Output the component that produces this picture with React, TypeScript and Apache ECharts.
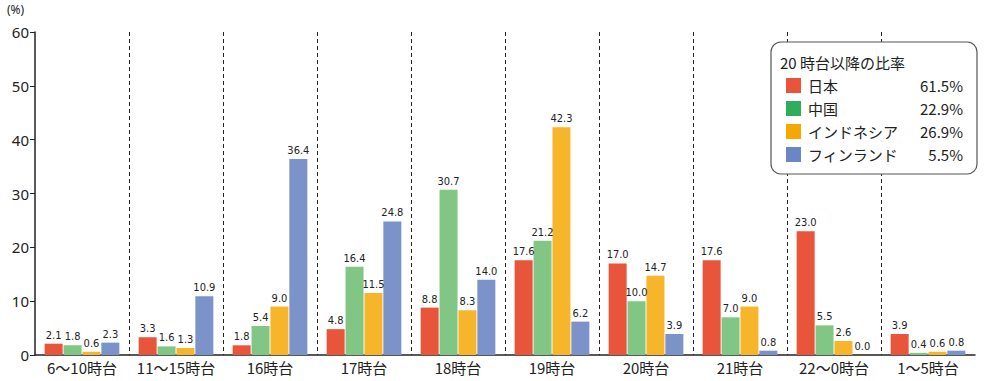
import React, { useEffect, useRef } from "react";
import * as echarts from "echarts";

const categories = ["6〜10時台", "11〜15時台", "16時台", "17時台", "18時台", "19時台", "20時台", "21時台", "22〜0時台", "1〜5時台"];
const japan = [2.1, 3.3, 1.8, 4.8, 8.8, 17.6, 17.0, 17.6, 23.0, 3.9];
const china = [1.8, 1.6, 5.4, 16.4, 30.7, 21.2, 10.0, 7.0, 5.5, 0.4];
const indonesia = [0.6, 1.3, 9.0, 11.5, 8.3, 42.3, 14.7, 9.0, 2.6, 0.6];
const finland = [2.3, 10.9, 36.4, 24.8, 14.0, 6.2, 3.9, 0.8, 0.0, 0.8];
const seriesNames = ["日本", "中国", "インドネシア", "フィンランド"];
const shareAfter20 = ["61.5%", "22.9%", "26.9%", "5.5%"];
const legendTitle = "20 時台以降の比率";

const barColors = ["#E9553A", "#82C685", "#F7B52C", "#7B93C9"];
const legendColors = ["#E9553A", "#2FAD5A", "#F5A800", "#6B86C4"];
const FONT = "'Noto Sans CJK JP', 'Noto Sans', sans-serif";

export default function App() {
  const ref = useRef<HTMLDivElement>(null);
  useEffect(() => {
    if (!ref.current) return;
    const chart = echarts.init(ref.current, undefined, { renderer: "svg" });
    const data = [japan, china, indonesia, finland];
    const legendGraphics: any[] = [
      {
        type: "rect",
        shape: { x: 771, y: 42, width: 206, height: 132, r: 10 },
        style: { fill: "#fff", stroke: "#555", lineWidth: 1.2 },
        z: 10,
      },
      {
        type: "text",
        x: 780,
        y: 62,
        style: { text: legendTitle, fontSize: 15, fontFamily: FONT, fill: "#222", verticalAlign: "middle" },
        z: 11,
      },
    ];
    seriesNames.forEach((n, i) => {
      const cy = 85 + i * 23;
      legendGraphics.push({
        type: "rect",
        shape: { x: 786, y: cy - 7, width: 15, height: 15 },
        style: { fill: legendColors[i] },
        z: 11,
      });
      legendGraphics.push({
        type: "text",
        x: 808,
        y: cy,
        style: { text: n, fontSize: 15, fontFamily: FONT, fill: "#222", verticalAlign: "middle" },
        z: 11,
      });
      legendGraphics.push({
        type: "text",
        x: 963,
        y: cy,
        style: { text: shareAfter20[i], fontSize: 15, fontFamily: FONT, fill: "#222", verticalAlign: "middle", align: "right" },
        z: 11,
      });
    });
    legendGraphics.push({
      type: "text",
      x: 7,
      y: 9,
      style: { text: "(%)", fontSize: 12, fontFamily: "'Noto Sans', sans-serif", fill: "#222", verticalAlign: "middle" },
    });

    chart.setOption({
      animation: false,
      grid: { left: 35, right: 9, top: 32, bottom: 26, containLabel: false },
      xAxis: {
        type: "category",
        data: categories,
        axisLine: { lineStyle: { color: "#222", width: 1.5 } },
        axisTick: { show: false },
        axisLabel: { interval: 0, fontSize: 15, fontFamily: FONT, color: "#222", margin: 5 },
        splitLine: {
          show: true,
          interval: 0,
          showMinLine: false,
          showMaxLine: false,
          lineStyle: { color: "#222", type: [4, 3], width: 1 },
        },
      },
      yAxis: {
        type: "value",
        min: 0,
        max: 60,
        interval: 10,
        axisLine: { show: true, lineStyle: { color: "#222", width: 1.5 } },
        axisTick: { show: true, inside: false, length: 5, lineStyle: { color: "#222" } },
        axisLabel: { fontSize: 15, fontFamily: "'Noto Sans', sans-serif", color: "#222", margin: 6 },
        splitLine: { show: false },
      },
      series: data.map((d, i) => ({
        type: "bar",
        name: seriesNames[i],
        data: d,
        barWidth: 18,
        barGap: "5%",
        itemStyle: { color: barColors[i] },
        label: {
          show: true,
          position: "top",
          distance: 3,
          fontSize: 11,
          fontFamily: "'DejaVu Sans Condensed', 'Liberation Sans Narrow', sans-serif",
          color: "#222",
          formatter: (p: any) => Number(p.value).toFixed(1),
        },
      })),
      graphic: legendGraphics,
    });
    return () => chart.dispose();
  }, []);
  return <div ref={ref} style={{ width: 984, height: 381, position: "absolute", left: 0, top: 0 }} />;
}
